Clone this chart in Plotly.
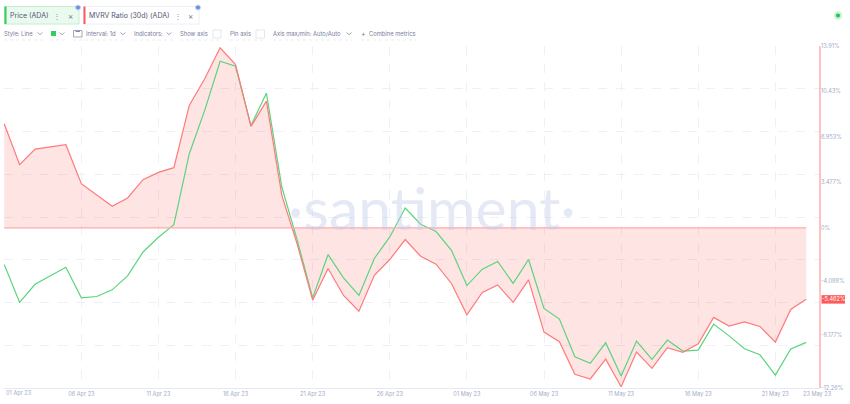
import pandas as pd
import plotly.graph_objects as go

dates = pd.date_range("2023-04-01", "2023-05-23", freq="D").strftime("%Y-%m-%d").tolist()
mvrv = [7.96, 4.83, 6.02, 6.20, 6.36, 3.38, 2.54, 1.64, 2.28, 3.68, 4.24, 4.60, 9.36, 11.40, 13.77, 12.49, 7.75, 9.69,
        2.48, -1.26, -5.54, -3.12, -5.18, -6.38, -3.63, -2.43, -0.90, -2.18, -2.79, -4.26, -6.66, -4.95, -4.37, -5.71,
        -3.99, -7.98, -8.72, -11.21, -11.57, -10.05, -12.16, -9.51, -10.76, -9.18, -9.53, -8.88, -6.86, -7.52, -7.20,
        -7.55, -8.75, -6.25, -5.462]
price = [-2.81, -5.71, -4.32, -3.68, -3.02, -5.36, -5.26, -4.75, -3.68, -1.85, -0.73, 0.24, 5.67, 8.98, 12.74, 12.36,
         7.83, 10.30, 3.12, -0.95, -5.36, -2.05, -3.83, -5.18, -2.35, -0.70, 1.51, 0.27, -0.29, -1.72, -4.42, -3.17,
         -2.58, -4.26, -2.43, -6.17, -6.99, -9.87, -10.37, -8.80, -11.34, -8.67, -10.07, -8.59, -9.43, -9.36, -7.37,
         -8.27, -9.26, -9.72, -11.27, -9.28, -8.77]
x_tick_dates = ["2023-04-01", "2023-04-06", "2023-04-11", "2023-04-16", "2023-04-21", "2023-04-26", "2023-05-01",
                "2023-05-06", "2023-05-11", "2023-05-16", "2023-05-21"]
x_tick_labels = ["", "06 Apr 23", "11 Apr 23", "16 Apr 23", "21 Apr 23", "26 Apr 23", "01 May 23", "06 May 23",
                 "11 May 23", "16 May 23", "21 May 23"]
y_ticks = [13.91, 10.43, 6.953, 3.477, 0, -4.088, -8.177, -12.26]
y_labels = ["13.91%", "10.43%", "6.953%", "3.477%", "0%", "-4.088%", "-8.177%", "-12.26%"]

RED, GREEN = "#ff7a7a", "#5ad47e"
TXT, AXT = "#777e9a", "#a3acc6"
L, R, T, B = 4, 820, 45.5, 388
FONT = "Inter"
TICK_SIZE = 5.6


def px(x):
    return (x - L) / (R - L)


def py(y):
    return (B - y) / (B - T)


def rect(x0, y0, x1, y1, fill="rgba(0,0,0,0)", line="rgba(0,0,0,0)", w=1):
    return dict(type="rect", xref="paper", yref="paper", x0=px(x0), x1=px(x1), y0=py(y0), y1=py(y1),
                fillcolor=fill, line=dict(color=line, width=w), layer="above")


def chevron(x, y=33):
    return dict(type="path", xref="paper", yref="paper", layer="above", line=dict(color="#8a90a8", width=0.8),
                path=f"M {px(x-2.5)} {py(y-1)} L {px(x)} {py(y+1.2)} L {px(x+2.5)} {py(y-1)}")


def underline(x0, x1, y=39.5):
    return dict(type="line", xref="paper", yref="paper", x0=px(x0), x1=px(x1), y0=py(y), y1=py(y), layer="above",
                line=dict(color="#dfe3ee", width=0.7, dash="dot"))


def label(text, x, y, size=5.8, color=TXT, anchor="left", family=FONT):
    return dict(text=text, xref="paper", yref="paper", x=px(x), y=py(y), xanchor=anchor, yanchor="middle",
                showarrow=False, font=dict(size=size, color=color, family=family), borderpad=0, borderwidth=0)


fig = go.Figure()
fig.add_trace(go.Scatter(x=dates, y=mvrv, mode="lines", line=dict(width=0), fill="tozeroy",
                         fillcolor="rgba(255,90,90,0.16)", name="MVRV fill", yaxis="y"))
fig.add_trace(go.Scatter(x=dates, y=price, mode="lines", line=dict(color=GREEN, width=1.2), name="Price (ADA)", yaxis="y"))
fig.add_trace(go.Scatter(x=dates, y=mvrv, mode="lines", line=dict(color=RED, width=1.2), name="MVRV Ratio (30d) (ADA)", yaxis="y2"))

shapes = [
    dict(type="line", xref="x", yref="y", x0=dates[0], x1=dates[-1], y0=0, y1=0, line=dict(color="#ffa9a9", width=1.2), layer="above"),
    dict(type="line", xref="paper", yref="paper", x0=1, x1=1, y0=0, y1=1, line=dict(color="#ff9a9a", width=1.2), layer="above"),
    rect(4.5, 6, 79, 23.5, "#eafaef", "#c4eed1"), rect(4.5, 6, 6.5, 23.5, "#2fcf5c"),
    rect(83.5, 6, 199, 23.5, "#ffffff", "#eceff8"), rect(83.5, 6, 85.5, 23.5, "#ff5a5a"),
    dict(type="circle", xref="paper", yref="paper", x0=px(75.5), x1=px(80.5), y0=py(4.5), y1=py(9.5), fillcolor="#6f8fe0", line=dict(color="#c9d6f5", width=1), layer="above"),
    dict(type="circle", xref="paper", yref="paper", x0=px(195.5), x1=px(200.5), y0=py(4.5), y1=py(9.5), fillcolor="#6f8fe0", line=dict(color="#c9d6f5", width=1), layer="above"),
    rect(51, 30.5, 56, 35.5, "#2fcf5c"),
    rect(73.5, 30, 82, 36.5, "#ffffff", "#8a90a8", 0.8), rect(75.5, 30, 80, 31.5, "#8a90a8"),
    rect(213, 29.5, 221, 37.5, "#ffffff", "#e4e7f1"), rect(256, 29.5, 264.5, 37.5, "#ffffff", "#e4e7f1"),
    dict(type="circle", xref="paper", yref="paper", x0=px(834), x1=px(842), y0=py(11), y1=py(19), fillcolor="#c8f2d4", line=dict(width=0), layer="above"),
    dict(type="circle", xref="paper", yref="paper", x0=px(836), x1=px(840), y0=py(13), y1=py(17), fillcolor="#22c94f", line=dict(width=0), layer="above"),
    rect(821.5, 295, 845, 303.5, "#ff5a5a"),
]
shapes += [chevron(x) for x in (40, 62, 123, 169, 349)]
shapes += [underline(4, 44), underline(50, 66), underline(73, 127), underline(134, 173), underline(180, 222), underline(230, 265), underline(273, 353), underline(361, 417)]

annotations = [
    dict(text="·santiment·", xref="paper", yref="paper", x=px(432), y=py(207), xanchor="center", yanchor="middle", showarrow=False,
         font=dict(size=59, color="rgba(190,202,230,0.42)", family="Lato")),
    label("Price (ADA)", 10, 15, 7, "#4f5570"), label("⋮", 57, 15, 8, "#8a90a8", "center"), label("×", 70, 15, 8, "#6f7590", "center"),
    label("MVRV Ratio (30d) (ADA)", 89, 15, 7, "#4f5570"), label("⋮", 178, 15, 8, "#8a90a8", "center"), label("×", 190, 15, 8, "#6f7590", "center"),
    label("Style: Line", 4, 33), label("Interval: 1d", 86, 33), label("Indicators:", 134, 33), label("Show axis", 180, 33),
    label("Pin axis", 230, 33), label("Axis max/min: Auto/Auto", 273, 33), label("+", 361, 33, 7), label("Combine metrics", 369, 33),
    label("01 Apr 23", 19, 394, TICK_SIZE, AXT, "center"), label("23 May 23", 817, 394, TICK_SIZE, AXT, "center"),
    label("-5.462%", 833.2, 299.3, TICK_SIZE, "#ffffff", "center"),
]

fig.update_layout(
    width=850, height=404, margin=dict(l=L, r=850 - R, t=T, b=404 - B), paper_bgcolor="white", plot_bgcolor="white",
    showlegend=False, font=dict(family=FONT), shapes=shapes, annotations=annotations,
    xaxis=dict(type="date", range=["2023-03-31 23:40", "2023-05-23 21:30"], tickmode="array", tickvals=x_tick_dates,
               ticktext=x_tick_labels, tickfont=dict(size=TICK_SIZE, color=AXT), ticks="", ticklen=0, showgrid=True,
               gridcolor="#eef0f7", griddash="dash", gridwidth=1, zeroline=False, showline=True, linecolor="#e6e9f3", linewidth=1),
    yaxis=dict(range=[-12.26, 13.91], tick0=13.91, dtick=(13.91 + 12.26) / 8, tickmode="linear", showticklabels=False,
               showgrid=True, gridcolor="#eef0f7", griddash="dash", gridwidth=1, zeroline=False, ticks=""),
    yaxis2=dict(range=[-12.26, 13.91], overlaying="y", side="right", tickmode="array", tickvals=y_ticks, ticktext=y_labels,
                tickfont=dict(size=TICK_SIZE, color=AXT), showgrid=False, zeroline=False, ticks="", showline=False),
)
fig.write_html("out.html", config={"displayModeBar": False},
               post_script="document.body.style.margin='0';document.documentElement.style.overflow='hidden';")
